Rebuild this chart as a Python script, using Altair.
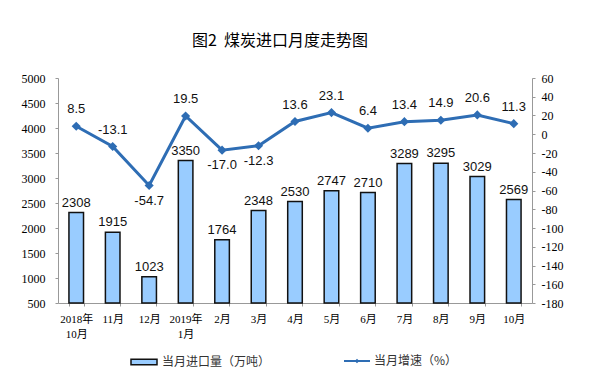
import altair as alt
import pandas as pd

months = ["2018年\n10月", "11月", "12月", "2019年\n1月", "2月", "3月", "4月",
          "5月", "6月", "7月", "8月", "9月", "10月"]
imports = [2308, 1915, 1023, 3350, 1764, 2348, 2530, 2747, 2710, 3289, 3295, 3029, 2569]
growth = [8.5, -13.1, -54.7, 19.5, -17.0, -12.3, 13.6, 23.1, 6.4, 13.4, 14.9, 20.6, 11.3]
growth_label_side = ["above", "above", "below", "above", "below", "below", "above",
                     "above", "above", "above", "above", "above", "above"]
bar_name = "当月进口量（万吨）"
line_name = "当月增速（%）"

df = pd.DataFrame({
    "month": months,
    "imports": imports,
    "base": [500] * len(months),
    "growth": growth,
    "side": growth_label_side,
    "s1": [bar_name] * len(months),
    "s2": [line_name] * len(months),
})

serif = "Liberation Serif, Noto Sans CJK SC"
sans = "Liberation Sans, Arial"
cjk = "Noto Sans CJK SC"
bar_fill = "#99CCFF"
line_col = "#2E6DB4"

x_enc = alt.X("month:N", sort=None, title=None,
              scale=alt.Scale(paddingInner=0.6, paddingOuter=0.3),
              axis=alt.Axis(labelExpr="split(datum.label, '\\n')", labelAngle=0,
                            labelFont=serif, labelFontSize=11, labelColor="#000",
                            labelPadding=7, tickBand="extent", tickSize=3,
                            domainColor="#999", tickColor="#999", labelLineHeight=15))

y_left = alt.Y("imports:Q", title=None,
               scale=alt.Scale(domain=[500, 5000], zero=False, nice=False),
               axis=alt.Axis(values=list(range(500, 5001, 500)), format="d",
                             labelFont=serif,
                             labelFontSize=12, labelColor="#000", labelPadding=10,
                             tickSize=3, domainColor="#999", tickColor="#999", grid=False))

y_right = alt.Y("growth:Q", title=None,
                scale=alt.Scale(domain=[-180, 60], nice=False),
                axis=alt.Axis(orient="right", values=list(range(-180, 61, 20)),
                              labelExpr="replace(datum.label, '\u2212', '-')",
                              labelFont=serif, labelFontSize=12, labelColor="#000",
                              labelPadding=6, tickSize=3, domainColor="#999",
                              tickColor="#999", grid=False))

bar_sym = "M-1,-0.22H1V0.22H-1Z"
line_sym = "M-1,-0.07H1V0.07H-1Z M-0.17,0L0,-0.17L0.17,0L0,0.17Z"

bars = alt.Chart(df).mark_bar(stroke="#111", strokeWidth=1.5).encode(
    x=x_enc,
    y=y_left,
    y2="base:Q",
    fill=alt.Fill("s1:N", title=None,
                  scale=alt.Scale(domain=[bar_name], range=[bar_fill]),
                  legend=alt.Legend(orient="none", legendX=72, legendY=270,
                                    symbolType=bar_sym, symbolSize=676,
                                    symbolStrokeColor="#111", symbolStrokeWidth=1.5,
                                    labelFont=cjk, labelFontSize=12, labelColor="#333",
                                    labelOffset=4)),
)
bar_text = alt.Chart(df).mark_text(baseline="bottom", dy=-3, font=sans,
                                   fontSize=13, color="#111").encode(
    x=x_enc, y=y_left, text=alt.Text("imports:Q", format="d"))

line = alt.Chart(df).mark_line(strokeWidth=3, point=alt.OverlayMarkDef(
    shape="diamond", size=40, fill=line_col, color=line_col)).encode(
    x=x_enc,
    y=y_right,
    stroke=alt.Stroke("s2:N", title=None,
                      scale=alt.Scale(domain=[line_name], range=[line_col]),
                      legend=alt.Legend(orient="none", legendX=286, legendY=270,
                                        symbolType=line_sym, symbolSize=676,
                                        symbolFillColor=line_col, symbolStrokeWidth=0,
                                        labelFont=cjk, labelFontSize=12,
                                        labelColor="#333", labelOffset=4)),
)
label_calc = "replace(format(datum.growth, '.1f'), '\u2212', '-')"
above = alt.Chart(df).transform_filter("datum.side == 'above'").transform_calculate(
    lab=label_calc).mark_text(
    baseline="middle", dy=-17, font=sans, fontSize=13, color="#111").encode(
    x=x_enc, y=y_right, text="lab:N")
below = alt.Chart(df).transform_filter("datum.side == 'below'").transform_calculate(
    lab=label_calc).mark_text(
    baseline="middle", dy=15, font=sans, fontSize=13, color="#111").encode(
    x=x_enc, y=y_right, text="lab:N")

chart = alt.layer(
    alt.layer(bars, bar_text),
    alt.layer(line, above, below),
).resolve_scale(y="independent", fill="independent", stroke="independent").properties(
    width=474, height=225,
    autosize=alt.AutoSizeParams(type="none"),
    padding={"left": 50, "top": 70, "right": 50, "bottom": 65},
    title=alt.Title("图2\u00a0\u00a0煤炭进口月度走势图", font=cjk, fontSize=16,
                    fontWeight="normal", color="#000", anchor="middle", offset=23, dx=-15),
).configure_view(stroke=None)

chart.save("out.html", embed_options={"renderer": "svg", "actions": False})
